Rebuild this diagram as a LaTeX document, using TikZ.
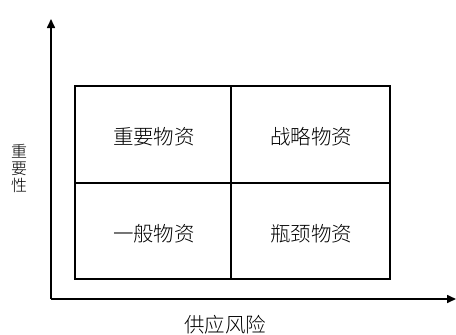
\documentclass[tikz,border=0pt]{standalone}
\usepackage{fontspec}
\newfontfamily\cjk{Noto Sans CJK SC Light}
\usetikzlibrary{arrows.meta}
\begin{document}
\begin{tikzpicture}[x=1pt,y=-1pt,
  axis/.style={line width=1.6pt,-{Triangle[length=9pt,width=8pt]}},
  grid/.style={line width=1.2pt},
  lbl/.style={font=\cjk\fontsize{20.5}{21}\selectfont, inner sep=0pt}]
\useasboundingbox (0,0) rectangle (456,335);
\coordinate (O) at (51,299);
\coordinate (Ytip) at (51,19);
\coordinate (Xtip) at (456,299);
\draw[axis] (O) -- (Ytip);
\draw[axis] (O) -- (Xtip);
\draw[grid] (75,86) rectangle (390,279);
\draw[grid] (231,86) -- (231,279);
\draw[grid] (75,183) -- (390,183);
\node[lbl] (a) at (154,137) {重要物资};
\node[lbl] (b) at (311,137) {战略物资};
\node[lbl] (c) at (154,234) {一般物资};
\node[lbl] (d) at (311,234) {瓶颈物资};
\node[lbl, font=\cjk\fontsize{16}{17}\selectfont, align=center] (y) at (19,168) {重\\要\\性};
\node[lbl] (x) at (225,325) {供应风险};
\end{tikzpicture}
\end{document}
